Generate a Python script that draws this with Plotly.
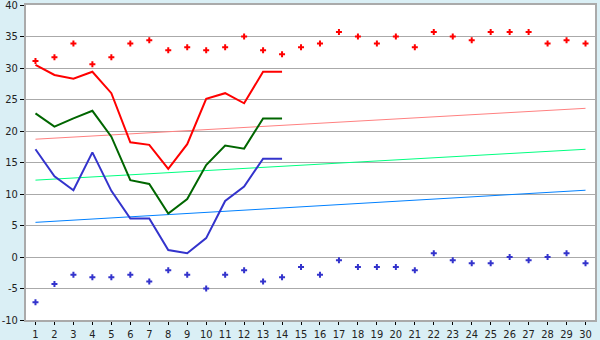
import plotly.graph_objects as go

days = list(range(1, 31))
days_line = list(range(1, 15))

max_points = [31.1, 31.7, 33.9, 30.6, 31.7, 33.9, 34.4, 32.8, 33.3, 32.8,
              33.3, 35.0, 32.8, 32.2, 33.3, 33.9, 35.7, 35.0, 33.9, 35.0,
              33.3, 35.7, 35.0, 34.4, 35.7, 35.7, 35.7, 33.9, 34.4, 33.9]
min_points = [-7.2, -4.3, -2.8, -3.2, -3.2, -2.8, -3.9, -2.1, -2.8, -5.0,
              -2.8, -2.1, -3.9, -3.2, -1.6, -2.8, -0.5, -1.6, -1.6, -1.6,
              -2.1, 0.6, -0.5, -1.0, -1.0, 0.0, -0.5, 0.0, 0.6, -1.0]
high_line = [30.5, 28.9, 28.3, 29.4, 26.0, 18.2, 17.8, 14.0, 17.9, 25.1,
             26.0, 24.4, 29.4, 29.4]
mean_line = [22.8, 20.7, 22.0, 23.2, 19.1, 12.2, 11.6, 6.9, 9.2, 14.6,
             17.7, 17.2, 22.0, 22.0]
low_line = [17.1, 12.8, 10.6, 16.6, 10.5, 6.1, 6.1, 1.1, 0.6, 3.0,
            8.9, 11.2, 15.6, 15.6]
trend_days = [1, 30]
trend_high = [18.7, 23.6]
trend_mean = [12.2, 17.1]
trend_low = [5.5, 10.6]
y_tick_values = [-10, -5, 0, 5, 10, 15, 20, 25, 30, 35, 40]
y_tick_labels = ["-10", "-5", "0", "5", "10", "15", "20", "25", "30", "35", "40"]

fig = go.Figure()
fig.add_trace(go.Scatter(x=trend_days, y=trend_high, mode="lines",
                         line=dict(color="#FF8080", width=1)))
fig.add_trace(go.Scatter(x=trend_days, y=trend_mean, mode="lines",
                         line=dict(color="#00FF80", width=1)))
fig.add_trace(go.Scatter(x=trend_days, y=trend_low, mode="lines",
                         line=dict(color="#0080FF", width=1)))
fig.add_trace(go.Scatter(x=days_line, y=high_line, mode="lines",
                         line=dict(color="#FF0000", width=2)))
fig.add_trace(go.Scatter(x=days_line, y=mean_line, mode="lines",
                         line=dict(color="#006600", width=2)))
fig.add_trace(go.Scatter(x=days_line, y=low_line, mode="lines",
                         line=dict(color="#3333CC", width=2)))
fig.add_trace(go.Scatter(x=days, y=max_points, mode="markers",
                         marker=dict(symbol="cross", size=5, color="#FF0000")))
fig.add_trace(go.Scatter(x=days, y=min_points, mode="markers",
                         marker=dict(symbol="cross", size=5, color="#3333CC")))

fig.update_layout(
    width=600, height=340,
    margin=dict(l=26, r=5, t=5, b=20),
    paper_bgcolor="rgb(218,239,245)",
    plot_bgcolor="white",
    showlegend=False,
    font=dict(family="DejaVu Sans Condensed, DejaVu Sans", size=11, color="#222222"),
)
fig.update_xaxes(range=[0.5, 30.5], tickmode="array", tickvals=days,
                 ticks="outside", ticklen=3, tickcolor="#000000",
                 showgrid=False, showline=True, linecolor="#AAAAAA",
                 linewidth=2, mirror=True, zeroline=False, automargin=False,
                 ticklabeloverflow="allow")
fig.update_yaxes(range=[-10, 40], tickmode="array", tickvals=y_tick_values,
                 ticktext=y_tick_labels, ticks="outside", ticklen=4,
                 tickcolor="#000000", showgrid=True, gridcolor="#AAAAAA",
                 gridwidth=1, showline=True, linecolor="#AAAAAA",
                 linewidth=2, mirror=True, zeroline=False, automargin=False,
                 ticklabeloverflow="allow")

fig.write_html("out.html")
